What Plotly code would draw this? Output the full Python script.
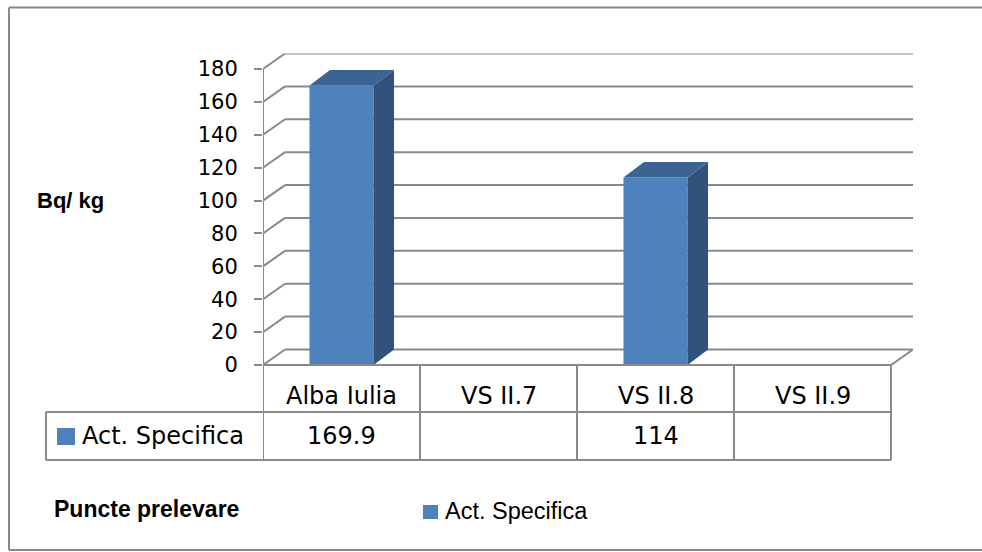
import plotly.graph_objects as go

# ---------------- data ----------------
categories = ["Alba Iulia", "VS II.7", "VS II.8", "VS II.9"]
act_specifica = [169.9, None, 114, None]
series_name = "Act. Specifica"
y_ticks = [0, 20, 40, 60, 80, 100, 120, 140, 160, 180]
y_axis_title = "Bq/ kg"
x_axis_title = "Puncte prelevare"

# ---------------- geometry / style ----------------
W, H = 982, 552
PLOT_L, PLOT_R = 263, 913          # front-left axis .. back-right wall (px)
FLOOR_Y, TOP_Y = 365, 53.5         # front floor .. back top (px)
DEPTH_X_PX, DEPTH_Y_PX = 22, 15.5  # 3-D depth offset of the back wall (px)
BAR_DEPTH_X_PX, BAR_DEPTH_Y_PX = 20.5, 15.5
BAR_W = 0.408

n = len(categories)
cat_px = (PLOT_R - DEPTH_X_PX - PLOT_L) / n
DX = DEPTH_X_PX / cat_px
k = (FLOOR_Y - TOP_Y - DEPTH_Y_PX) / y_ticks[-1]
DY = DEPTH_Y_PX / k
BDX = BAR_DEPTH_X_PX / cat_px
BDY = BAR_DEPTH_Y_PX / k
YMAX = y_ticks[-1] + DY

FRONT = "#4F81BD"
SIDE = "#32527C"
TOP = "#3C6492"
GRID = "#8A8A8A"
FRAME = "#878787"


def px(x):
    return x / W


def py(y):
    return 1 - y / H


fig = go.Figure()

# side and top faces of the 3-D columns (from data values)
for i, v in enumerate(act_specifica):
    if v is None:
        continue
    xl, xr = i - BAR_W / 2, i + BAR_W / 2
    fig.add_trace(go.Scatter(
        x=[xr, xr + BDX, xr + BDX, xr, xr],
        y=[0, BDY, v + BDY, v, 0],
        fill="toself", fillcolor=SIDE, mode="lines", line=dict(width=0),
        showlegend=False, hoverinfo="skip"))
    fig.add_trace(go.Scatter(
        x=[xl, xl + BDX, xr + BDX, xr, xl],
        y=[v, v + BDY, v + BDY, v, v],
        fill="toself", fillcolor=TOP, mode="lines", line=dict(width=0),
        showlegend=False, hoverinfo="skip"))

# front faces
fig.add_trace(go.Bar(
    x=list(range(n)), y=act_specifica, width=BAR_W, name=series_name,
    marker=dict(color=FRONT, line=dict(width=0)), showlegend=False))

shapes = []
# back wall gridlines and side-wall diagonals
for t in y_ticks:
    shapes.append(dict(type="line", xref="x", yref="y", layer="below",
                       x0=-0.5 + DX, x1=n - 0.5 + DX, y0=t + DY, y1=t + DY,
                       line=dict(color=GRID, width=2)))
    shapes.append(dict(type="line", xref="x", yref="y", layer="below",
                       x0=-0.5, x1=-0.5 + DX, y0=t, y1=t + DY,
                       line=dict(color=GRID, width=2)))
# floor right edge
shapes.append(dict(type="line", xref="x", yref="y", layer="below",
                   x0=n - 0.5, x1=n - 0.5 + DX, y0=0, y1=DY,
                   line=dict(color=GRID, width=2)))
# front vertical axis
shapes.append(dict(type="line", xref="x", yref="y", layer="below",
                   x0=-0.5, x1=-0.5, y0=0, y1=y_ticks[-1],
                   line=dict(color=GRID, width=2)))

# data table
ROW0, ROW1, ROW2 = FLOOR_Y, 412, 460
TABLE_L = 46
shapes.append(dict(type="line", xref="x", yref="paper", x0=-0.5, x1=n - 0.5,
                   y0=py(ROW0), y1=py(ROW0), line=dict(color=GRID, width=2)))
for yy in (ROW1, ROW2):
    shapes.append(dict(type="line", xref="paper", yref="paper",
                       x0=px(TABLE_L), x1=px(PLOT_L + n * cat_px),
                       y0=py(yy), y1=py(yy), line=dict(color=GRID, width=2)))
for j in range(n + 1):
    shapes.append(dict(type="line", xref="x", yref="paper",
                       x0=j - 0.5, x1=j - 0.5, y0=py(ROW0), y1=py(ROW2),
                       line=dict(color=GRID, width=2)))
shapes.append(dict(type="line", xref="paper", yref="paper",
                   x0=px(TABLE_L), x1=px(TABLE_L), y0=py(ROW1), y1=py(ROW2),
                   line=dict(color=GRID, width=2)))
# legend key in table
shapes.append(dict(type="rect", xref="paper", yref="paper",
                   x0=px(57), x1=px(75), y0=py(445), y1=py(428),
                   fillcolor=FRONT, line=dict(width=0)))
# legend key below the chart
shapes.append(dict(type="rect", xref="paper", yref="paper",
                   x0=px(423), x1=px(438), y0=py(519), y1=py(505),
                   fillcolor=FRONT, line=dict(width=0)))
# outer frame (right side runs off the picture)
FL, FT, FB = 9, 7.5, 550
for (x0, y0, x1, y1) in [(FL, FT, W, FT), (FL, FB, W, FB), (FL, FT, FL, FB)]:
    shapes.append(dict(type="line", xref="paper", yref="paper",
                       x0=px(x0), x1=px(x1), y0=py(y0), y1=py(y1),
                       line=dict(color=FRAME, width=2)))

TABLE_FONT = dict(family="DejaVu Sans", size=24, color="#000000")
annotations = []
for i, c in enumerate(categories):
    annotations.append(dict(x=i, y=py(396), xref="x", yref="paper",
                            text=c, showarrow=False, font=TABLE_FONT,
                            xanchor="center", yanchor="middle"))
    v = act_specifica[i]
    if v is not None:
        annotations.append(dict(x=i, y=py(435.5), xref="x", yref="paper",
                                text=f"{v:g}", showarrow=False, font=TABLE_FONT,
                                xanchor="center", yanchor="middle"))
annotations.append(dict(x=px(80), y=py(435.5), xref="paper", yref="paper",
                        text=series_name, showarrow=False, font=TABLE_FONT,
                        xanchor="left", yanchor="middle"))
annotations.append(dict(x=px(35), y=py(201), xref="paper", yref="paper",
                        text=f"<b>{y_axis_title}</b>", showarrow=False,
                        font=dict(family="Liberation Sans", size=22, color="#000000"),
                        xanchor="left", yanchor="middle"))
annotations.append(dict(x=px(52), y=py(509), xref="paper", yref="paper",
                        text=f"<b>{x_axis_title}</b>", showarrow=False,
                        font=dict(family="Liberation Sans", size=23, color="#000000"),
                        xanchor="left", yanchor="middle"))
annotations.append(dict(x=px(443), y=py(511), xref="paper", yref="paper",
                        text=series_name, showarrow=False,
                        font=dict(family="Liberation Sans", size=23.5, color="#000000"),
                        xanchor="left", yanchor="middle"))

fig.update_layout(
    width=W, height=H,
    margin=dict(l=0, r=0, t=0, b=0, pad=0, autoexpand=False),
    paper_bgcolor="white", plot_bgcolor="rgba(0,0,0,0)",
    shapes=shapes, annotations=annotations,
    xaxis=dict(domain=[px(PLOT_L), px(PLOT_R)], range=[-0.5, n - 0.5 + DX],
               visible=False, fixedrange=True, automargin=False),
    yaxis=dict(domain=[py(FLOOR_Y), py(TOP_Y)], range=[0, YMAX],
               tickvals=y_ticks, ticktext=[str(t) for t in y_ticks],
               ticks="outside", ticklen=8, tickwidth=2, tickcolor=GRID,
               ticklabelstandoff=12, automargin=False,
               tickfont=dict(family="DejaVu Sans", size=21, color="#000000"),
               showgrid=False, zeroline=False, showline=False, fixedrange=True),
    showlegend=False,
)

fig.write_html(
    "out.html",
    config={"displayModeBar": False},
    post_script="document.body.style.margin='0';document.body.style.overflow='hidden';",
)
